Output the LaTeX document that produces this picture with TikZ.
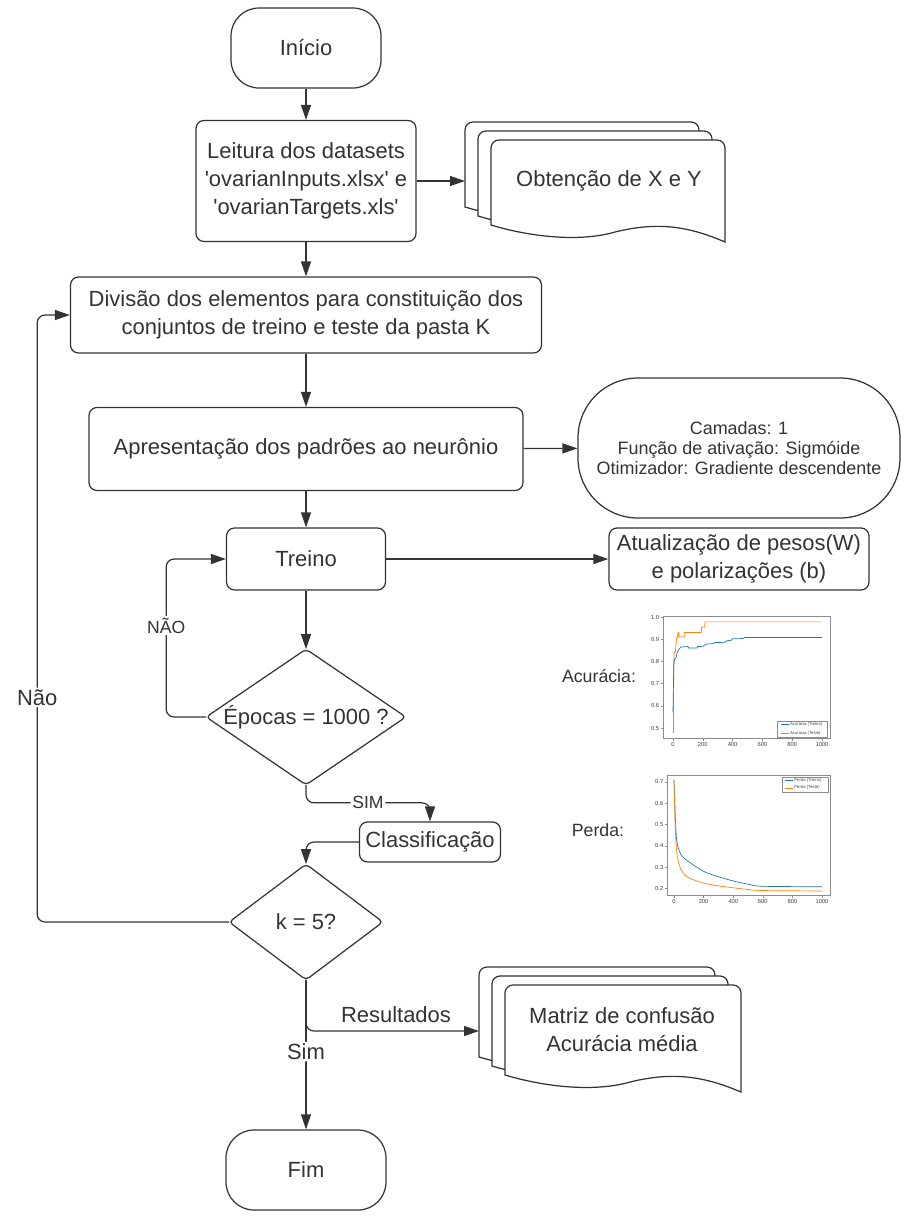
\documentclass[tikz,border=0pt]{standalone}
\usepackage{fontspec}
\setmainfont{Liberation Sans}
\usetikzlibrary{arrows.meta}
\definecolor{linha}{HTML}{333333}
\definecolor{azul}{HTML}{1F77B4}
\definecolor{laranja}{HTML}{FF7F0E}
\newdimen\px \px=0.02cm

\tikzset{
    texto/.style = {font = \fontsize{12.5}{15.9}\selectfont, text = linha, align = center},
    caixa/.style = {texto, draw = linha, line width = 0.7pt, rounded corners = 8\px, inner sep = 0pt},
    terminal/.style = {caixa, rounded corners = 28\px},
    decisao/.style = {texto, inner sep = 0pt},
    losango/.style = {draw = linha, line width = 0.7pt, rounded corners = 4\px},
    seta/.style = {draw = linha, line width = 0.7pt, rounded corners = 8\px, -{Triangle[length = 0.3cm, width = 0.2cm]}},
    rotulo/.style = {texto, fill = white, inner sep = 1pt},
    rotuloP/.style = {rotulo, font = \fontsize{10}{12}\selectfont},
    eixo/.style = {draw = black!45, line width = 0.3pt},
    marca/.style = {font = \fontsize{3.3}{4}\selectfont, text = black!75, inner sep = 1pt},
    legenda/.style = {font = \fontsize{2.4}{3}\selectfont, text = black!75, inner sep = 0.5pt, anchor = west}
}

% one document of a stack: x, y, width, height of the left side
\newcommand{\documento}[4]{%
\draw[draw = linha, line width = 0.7pt, fill = white] (#1,#2+#4) [rounded corners = 8\px] -- (#1,#2) -- (#1+#3,#2) [sharp corners] -- (#1+#3,#2+#4+17)
.. controls (#1+0.85*#3,#2+#4+2) and (#1+0.72*#3,#2+#4-4) .. (#1+0.53*#3,#2+#4+7)
.. controls (#1+0.4*#3,#2+#4+16) and (#1+0.2*#3,#2+#4+14) .. (#1,#2+#4) -- cycle;}
\newcommand{\pilha}[4]{\foreach \k in {0,1,2} {\documento{#1+13*\k}{#2+9*\k}{#3}{#4}}}

\begin{document}
\begin{tikzpicture}[x = 1\px, y = -1\px]
\useasboundingbox (0,0) rectangle (920,1228);

\node[terminal] (inicio) at (306,48) [minimum width = 150\px, minimum height = 80\px] {Início};
\node[caixa] (leitura) at (306,181) [minimum width = 220\px, minimum height = 121\px] {Leitura dos datasets\\\textquotesingle ovarianInputs.xlsx\textquotesingle{} e\\\textquotesingle ovarianTargets.xls\textquotesingle};
\pilha{465}{122}{234}{85}
\coordinate (pilhaA) at (465,181);
\node[texto] (obtencao) at (609,181) {Obtenção de X e Y};
\node[caixa] (divisao) at (306,315) [minimum width = 471\px, minimum height = 76\px] {Divisão dos elementos para constituição dos\\conjuntos de treino e teste da pasta K};
\node[caixa] (apresentacao) at (306,449) [minimum width = 434\px, minimum height = 83\px] {Apresentação dos padrões ao neurônio};
\node[terminal] (parametros) at (739,448) [minimum width = 322\px, minimum height = 140\px, rounded corners = 60\px, font = \fontsize{10.2}{11.6}\selectfont] {Camadas: 1\\Função de ativação: Sigmóide\\Otimizador: Gradiente descendente};
\node[caixa] (treino) at (306,559) [minimum width = 159\px, minimum height = 62\px] {Treino};
\node[caixa] (atualizacao) at (739,559) [minimum width = 260\px, minimum height = 62\px] {Atualização de pesos(W)\\e polarizações (b)};
\node[decisao] (epocas) at (306,717) [minimum width = 199\px, minimum height = 135\px] {Épocas = 1000 ?};
\node[caixa] (classificacao) at (430,842) [minimum width = 141\px, minimum height = 40\px] {Classificação};
\node[decisao] (kcinco) at (306,922) [minimum width = 153\px, minimum height = 115\px] {k = 5?};
\node[terminal] (fim) at (306,1170) [minimum width = 160\px, minimum height = 80\px] {Fim};
\pilha{479}{967}{236}{90}
\coordinate (pilhaB) at (479,1031);
\node[texto] (resultados) at (622,1030) {Matriz de confusão\\Acurácia média};
\foreach \n in {epocas, kcinco}
    \draw[losango] (\n.north) -- (\n.east) -- (\n.south) -- (\n.west) -- cycle;

% arrows
\draw[seta] (inicio) -- (leitura);
\draw[seta] (leitura) -- (pilhaA);
\draw[seta] (leitura) -- (divisao);
\draw[seta] (divisao) -- (apresentacao);
\draw[seta] (apresentacao) -- (parametros);
\draw[seta] (apresentacao) -- (treino);
\draw[seta] (treino) -- (atualizacao);
\draw[seta] (treino) -- (epocas);
\draw[seta] (epocas.west) -- ++(-40,0) |- node[rotuloP, pos = 0.29] {NÃO} (treino.west);
\draw[seta] (epocas.south) -- ++(0,18) -| node[rotuloP, pos = 0.25] {SIM} (classificacao.north);
\draw[seta] (classificacao.west) -| (kcinco.north);
\draw[seta] (kcinco.west) -- ++(-192,0) |- node[rotulo, pos = 0.185] {Não} (divisao.west);
\draw[seta] (kcinco) -- node[rotulo, pos = 0.48] {Sim} (fim);
\draw[seta] (kcinco.south) |- node[texto, pos = 0.76, above = 0.04cm] {Resultados} (pilhaB);

% charts
\node[texto, font = \fontsize{10.1}{12}\selectfont] (acuracia) at (599,676) {Acurácia:};
\node[texto, font = \fontsize{10.1}{12}\selectfont] (perda) at (598,830) {Perda:};

\begin{scope}[shift = {(673,839)}, x = 0.149\px, y = 222\px]
\draw[eixo] (-67,0.455) rectangle (1054,1.005);
\foreach \v in {0.5,0.6,0.7,0.8,0.9,1.0}
    \draw[eixo] (-67,\v) -- ++(-12,0) node[marca, left] {\v};
\foreach \i in {0,200,400,600,800,1000}
    \draw[eixo] (\i,0.455) -- ++(0,-0.012) node[marca, below] {\i};
\draw[laranja, line width = 0.4pt] (0,0.48) -- (3,0.48) -- (5,0.80) -- (8,0.84) -- (15,0.84) -- (18,0.86) -- (25,0.91) -- (32,0.91) -- (33,0.93) -- (38,0.93) -- (40,0.91) -- (75,0.91) -- (76,0.93) -- (190,0.93) -- (192,0.955) -- (212,0.955) -- (215,0.978) -- (1000,0.978);
\draw[azul, line width = 0.4pt] (0,0.57) -- (5,0.78) -- (10,0.81) -- (20,0.815) -- (28,0.84) -- (40,0.855) -- (55,0.865) -- (100,0.867) -- (105,0.86) -- (160,0.86) -- (165,0.867) -- (200,0.868) -- (225,0.878) -- (270,0.88) -- (280,0.885) -- (350,0.886) -- (360,0.893) -- (390,0.895) -- (400,0.902) -- (470,0.903) -- (480,0.908) -- (1000,0.908);
\draw[eixo, fill = white] (698,0.459) rectangle (1034,0.532);
\draw[azul, line width = 0.4pt] (725,0.515) -- (778,0.515) node[legenda] {Acurácia (Treino)};
\draw[laranja, line width = 0.4pt] (725,0.478) -- (778,0.478) node[legenda] {Acurácia (Teste)};
\end{scope}

\begin{scope}[shift = {(674,931)}, x = 0.148\px, y = 213\px]
\draw[eixo] (-47,0.169) rectangle (1054,0.732);
\foreach \v in {0.2,0.3,0.4,0.5,0.6,0.7}
    \draw[eixo] (-47,\v) -- ++(-12,0) node[marca, left] {\v};
\foreach \i in {0,200,400,600,800,1000}
    \draw[eixo] (\i,0.169) -- ++(0,-0.012) node[marca, below] {\i};
\draw[azul, line width = 0.4pt] plot[smooth] coordinates {(0,0.71) (8,0.55) (15,0.45) (25,0.40) (50,0.355) (100,0.325) (200,0.28) (300,0.255) (400,0.235) (500,0.22) (600,0.21) (1000,0.208)};
\draw[laranja, line width = 0.4pt] plot[smooth] coordinates {(0,0.71) (8,0.5) (15,0.40) (25,0.34) (50,0.285) (100,0.25) (200,0.225) (300,0.212) (400,0.203) (500,0.195) (600,0.19) (1000,0.188)};
\draw[eixo, fill = white] (730,0.653) rectangle (1040,0.723);
\draw[azul, line width = 0.4pt] (750,0.705) -- (805,0.705) node[legenda] {Perda (Treino)};
\draw[laranja, line width = 0.4pt] (750,0.672) -- (805,0.672) node[legenda] {Perda (Teste)};
\end{scope}

\end{tikzpicture}
\end{document}
